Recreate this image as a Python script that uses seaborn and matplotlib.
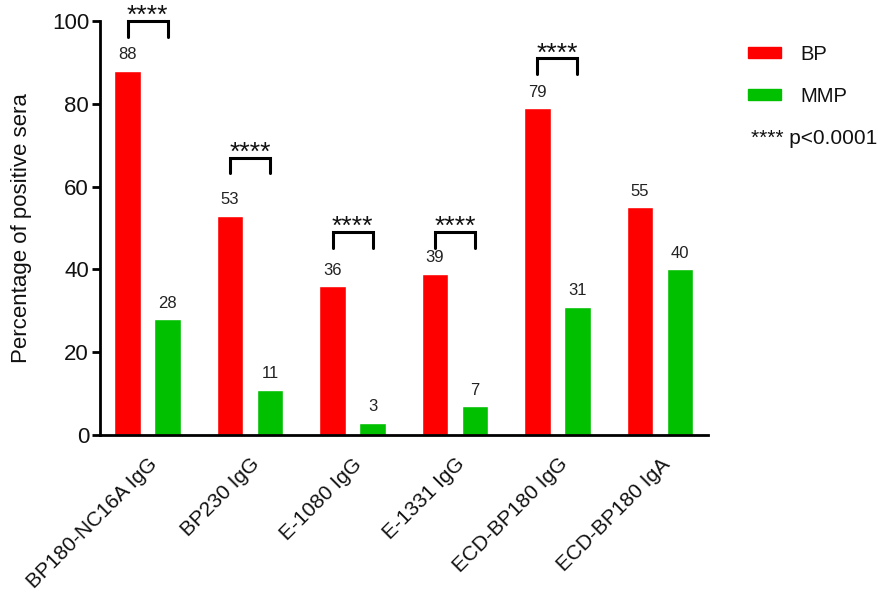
import pandas as pd
import seaborn as sns
import matplotlib.pyplot as plt
from matplotlib.patches import Patch

# data
antigens = ['BP180-NC16A IgG', 'BP230 IgG', 'E-1080 IgG', 'E-1331 IgG',
            'ECD-BP180 IgG', 'ECD-BP180 IgA']
bp_vals = [88, 53, 36, 39, 79, 55]
mmp_vals = [28, 11, 3, 7, 31, 40]
groups = ['BP', 'MMP']
colors = ['#ff0000', '#00c000']
# significance brackets: group index, bracket top (y)
sig_idx = [0, 1, 2, 3, 4]
sig_top = [100, 67, 49, 49, 91]

sns.set_theme(style='ticks')
plt.rcParams['font.family'] = ['Liberation Sans', 'DejaVu Sans']

df = pd.DataFrame({
    'antigen': antigens * 2,
    'group': ['BP'] * len(antigens) + ['MMP'] * len(antigens),
    'value': bp_vals + mmp_vals,
})

fig = plt.figure(figsize=(8.86, 6.01), dpi=100)
ax = fig.add_axes([0.113, 0.276, 0.686, 0.689])

bw = 0.78
sns.barplot(data=df, x='antigen', y='value', hue='group', hue_order=groups,
            palette=colors, width=bw, gap=0.34, saturation=1,
            legend=False, ax=ax, errorbar=None)

# value labels
for cont in ax.containers:
    ax.bar_label(cont, padding=6, fontsize=12, color='#222222')

# significance brackets
off = bw / 4
for i, top in zip(sig_idx, sig_top):
    x1, x2 = i - off, i + off
    ax.plot([x1, x1, x2, x2], [top - 3.8, top, top, top - 3.8], color='black',
            lw=2.2, clip_on=False, solid_joinstyle='miter')
    ax.text(i, top - 0.5, '****', ha='center', va='baseline', fontsize=19,
            color='#111111', clip_on=False)

ax.set_xlim(-0.463, 5.468)
ax.set_ylim(0, 100)
ax.set_yticks([0, 20, 40, 60, 80, 100])
ax.set_xlabel('')
ax.set_ylabel('Percentage of positive sera', fontsize=16, labelpad=14,
              color='#111111')
ax.tick_params(axis='y', labelsize=16, width=2, length=6, pad=2,
               color='black', labelcolor='#111111')
ax.tick_params(axis='x', length=0, labelsize=15, pad=14, labelcolor='#111111')
plt.setp(ax.get_xticklabels(), rotation=45, ha='right', rotation_mode='anchor')
sns.despine(ax=ax)
for s in ['left', 'bottom']:
    ax.spines[s].set_linewidth(2)
    ax.spines[s].set_color('black')

handles = [Patch(color=c, label=g) for c, g in zip(colors, groups)]
fig.legend(handles=handles, loc='upper left', bbox_to_anchor=(0.824, 0.956),
           frameon=False, fontsize=14.5, handlelength=1.65, handleheight=0.5,
           labelspacing=1.15, handletextpad=0.95, labelcolor='#111111')
fig.text(0.848, 0.770, '**** p<0.0001', fontsize=15, va='center',
         color='#111111')

fig.savefig('out.png', dpi=100)
